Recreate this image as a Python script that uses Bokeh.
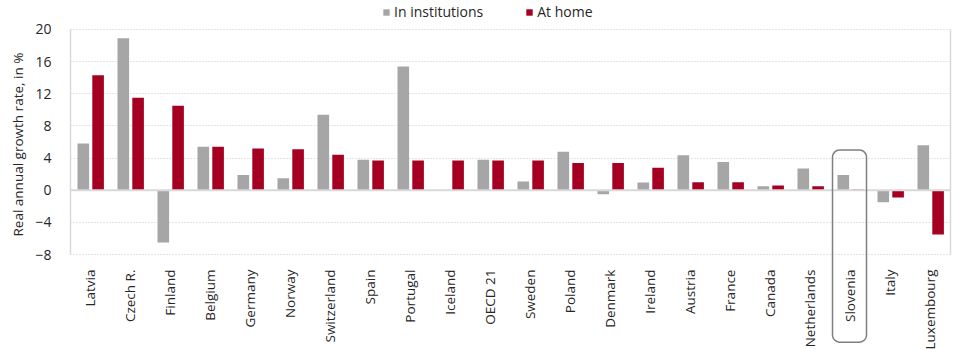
from bokeh.plotting import figure
from bokeh.models import (ColumnDataSource, FactorRange, Range1d, FixedTicker, Span,
                          LinearAxis, BoxAnnotation, Legend, LegendItem, Title)
from bokeh.transform import dodge
from bokeh.embed import file_html
from bokeh.resources import INLINE
import math

countries = ["Latvia", "Czech R.", "Finland", "Belgium", "Germany", "Norway", "Switzerland",
             "Spain", "Portugal", "Iceland", "OECD 21", "Sweden", "Poland", "Denmark",
             "Ireland", "Austria", "France", "Canada", "Netherlands", "Slovenia", "Italy",
             "Luxembourg"]
in_institutions = [5.8, 18.9, -6.5, 5.4, 1.9, 1.5, 9.4, 3.8, 15.4, 0.0, 3.8, 1.1, 4.8, -0.5,
                   0.95, 4.35, 3.5, 0.5, 2.7, 1.9, -1.5, 5.6]
at_home = [14.3, 11.5, 10.5, 5.4, 5.2, 5.1, 4.4, 3.7, 3.7, 3.7, 3.7, 3.7, 3.4, 3.4,
           2.8, 1.0, 1.0, 0.6, 0.5, 0.1, -0.9, -5.5]
y_ticks = [-8, -4, 0, 4, 8, 12, 16, 20]
y_label = "Real annual growth rate, in %"
highlight = "Slovenia"

FONT = "Open Sans"
GRAY = "#A6A6A6"
RED = "#A50021"
TXT = "#262626"

# scale: 8.04 px per unit, 20 at y=29 px, -8 at y=254 px, canvas height 349
PX = 8.04
y_top = 20 + 29 / PX
y_bot = -8 - (349 - 254) / PX

src = ColumnDataSource(dict(c=countries, a=in_institutions, b=at_home))

p = figure(width=960, height=349, x_range=FactorRange(factors=countries, range_padding=0),
           y_range=Range1d(y_bot, y_top), output_backend="svg", toolbar_location=None,
           min_border_left=69, min_border_right=10, min_border_top=0, min_border_bottom=0)
p.outline_line_color = None
p.background_fill_color = "white"
p.border_fill_color = "white"

r1 = p.vbar(x=dodge("c", -0.18, range=p.x_range), top="a", bottom=0, width=0.29,
            source=src, fill_color=GRAY, line_color=None)
r2 = p.vbar(x=dodge("c", 0.19, range=p.x_range), top="b", bottom=0, width=0.29,
            source=src, fill_color=RED, line_color=None)

p.yaxis.ticker = FixedTicker(ticks=y_ticks)
p.yaxis.bounds = (-8, 20)
p.ygrid.grid_line_color = "#C8C8C8"
p.ygrid.grid_line_dash = "1 2"
p.ygrid.grid_line_width = 1
p.xgrid.grid_line_color = None

p.yaxis.axis_line_color = "#D9D9D9"
p.yaxis.axis_line_width = 1.5
p.yaxis.major_tick_line_color = None
p.yaxis.minor_tick_line_color = None
p.yaxis.major_label_text_font = FONT
p.yaxis.major_label_text_font_size = "14px"
p.yaxis.major_label_text_color = TXT
p.yaxis.major_label_standoff = 13

p.add_layout(Title(text=y_label, align="left", offset=113, standoff=12,
                   text_font=FONT, text_font_size="13.5px", text_font_style="normal",
                   text_color=TXT), "left")

p.xaxis.fixed_location = -8
p.xaxis.axis_line_color = None
p.xaxis.major_tick_line_color = None
p.xaxis.minor_tick_line_color = None
p.xaxis.major_label_orientation = math.pi / 2
p.xaxis.major_label_text_font = FONT
p.xaxis.major_label_text_font_size = "13.5px"
p.xaxis.major_label_text_color = TXT
p.xaxis.major_label_standoff = 9

right_axis = LinearAxis(ticker=FixedTicker(ticks=[]), bounds=(-8, 20),
                        axis_line_color="#D9D9D9", axis_line_width=1.5,
                        major_tick_line_color=None, minor_tick_line_color=None,
                        major_label_text_font_size="0px")
p.add_layout(right_axis, "right")

p.add_layout(Span(location=0, dimension="width", line_color="#D9D9D9", line_width=2))

idx = countries.index(highlight)
p.add_layout(BoxAnnotation(left=idx + 0.05, right=idx + 0.9, top=5.0, bottom=-18.9,
                           fill_color=None, fill_alpha=0, line_color="#7F7F7F",
                           line_alpha=1.0, line_width=1.5, border_radius=7))

legend = Legend(items=[LegendItem(label="In institutions", renderers=[r1]),
                       LegendItem(label="At home", renderers=[r2])],
                orientation="horizontal", location=(312, 328),
                label_text_font=FONT, label_text_font_size="14px",
                label_text_color=TXT, glyph_width=8, glyph_height=8,
                label_standoff=4, spacing=42, padding=0, margin=0,
                border_line_color=None, background_fill_alpha=0)
p.add_layout(legend, "center")

open("out.html", "w").write(file_html(p, INLINE))
